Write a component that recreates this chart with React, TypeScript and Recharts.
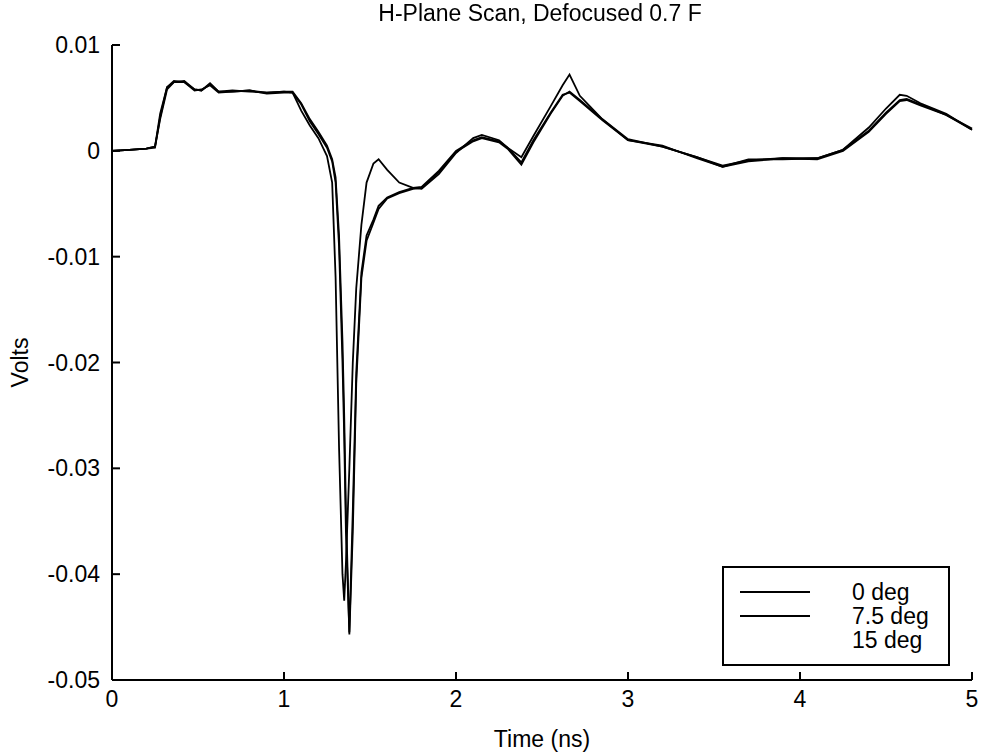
import React from 'react';
import { LineChart, Line, XAxis, YAxis } from 'recharts';

// time axis (ns)
const TIME = [0, 0.1, 0.2, 0.25, 0.28, 0.32, 0.36, 0.42, 0.48, 0.52, 0.57, 0.62, 0.7, 0.8, 0.9, 1.0, 1.05, 1.1, 1.15, 1.2, 1.25, 1.28, 1.3, 1.32, 1.34, 1.35, 1.36, 1.38, 1.4, 1.42, 1.45, 1.48, 1.52, 1.55, 1.6, 1.67, 1.75, 1.8, 1.9, 2.0, 2.1, 2.15, 2.25, 2.3, 2.38, 2.45, 2.55, 2.62, 2.66, 2.72, 2.85, 3.0, 3.2, 3.4, 3.55, 3.7, 3.9, 4.1, 4.25, 4.4, 4.5, 4.58, 4.62, 4.7, 4.85, 5.0];
const DEG0 = [0, 0.0001, 0.0002, 0.0004, 0.0035, 0.006, 0.0066, 0.0065, 0.0058, 0.0057, 0.0064, 0.0056, 0.0056, 0.0057, 0.0055, 0.0056, 0.0055, 0.0038, 0.0024, 0.0012, -0.0005, -0.003, -0.012, -0.028, -0.04, -0.0425, -0.039, -0.03, -0.02, -0.013, -0.007, -0.003, -0.0012, -0.0008, -0.0018, -0.003, -0.0035, -0.0036, -0.0022, -0.0002, 0.0012, 0.0015, 0.001, 0.0003, -0.0006, 0.0014, 0.0042, 0.0062, 0.0072, 0.0052, 0.003, 0.001, 0.0005, -0.0007, -0.0015, -0.0008, -0.0008, -0.0007, 0.0001, 0.0022, 0.004, 0.0053, 0.0052, 0.0045, 0.0035, 0.002];
const DEG75 = [0, 0.0001, 0.0002, 0.0004, 0.003, 0.0058, 0.0065, 0.0066, 0.0058, 0.0057, 0.0063, 0.0056, 0.0057, 0.0056, 0.0055, 0.0056, 0.0056, 0.0045, 0.003, 0.0018, 0.0005, -0.0008, -0.0025, -0.008, -0.018, -0.025, -0.034, -0.0457, -0.036, -0.022, -0.012, -0.0085, -0.0068, -0.0055, -0.0045, -0.004, -0.0036, -0.0035, -0.002, -0.0001, 0.0009, 0.0012, 0.0008, 0.0002, -0.0013, 0.0008, 0.0035, 0.0052, 0.0056, 0.0048, 0.003, 0.0011, 0.0004, -0.0006, -0.0015, -0.001, -0.0007, -0.0008, 0, 0.0018, 0.0035, 0.0047, 0.0048, 0.0043, 0.0034, 0.0021];
const DEG15 = [0, 0.0001, 0.0002, 0.0003, 0.0032, 0.006, 0.0065, 0.0065, 0.0057, 0.0058, 0.0062, 0.0055, 0.0056, 0.0057, 0.0054, 0.0055, 0.0055, 0.0044, 0.0028, 0.0016, 0.0003, -0.001, -0.003, -0.009, -0.02, -0.027, -0.036, -0.0455, -0.034, -0.021, -0.0115, -0.008, -0.0065, -0.0052, -0.0044, -0.0039, -0.0035, -0.0034, -0.0019, 0, 0.001, 0.0013, 0.0009, 0.0003, -0.0011, 0.001, 0.0036, 0.0053, 0.0055, 0.0047, 0.0029, 0.001, 0.0004, -0.0006, -0.0014, -0.0009, -0.0007, -0.0007, 0.0001, 0.0019, 0.0036, 0.0048, 0.0049, 0.0044, 0.0034, 0.002];
const X_TICKS = [0, 1, 2, 3, 4, 5];
const Y_TICKS = [0.01, 0, -0.01, -0.02, -0.03, -0.04, -0.05];
const LEGEND = ['0 deg', '7.5 deg', '15 deg'];

const data = TIME.map((t, i) => ({ t, a: DEG0[i], b: DEG75[i], c: DEG15[i] }));
const FONT = '"Liberation Sans", Arial, sans-serif';
const FS = 23;
const tickStyle = { fontSize: FS, fill: '#000', fontFamily: FONT };

export default function App() {
  return (
    <div style={{ position: 'fixed', left: 0, top: 0, width: 982, height: 753, background: '#fff', fontFamily: FONT }}>
      <LineChart width={982} height={753} data={data} margin={{ top: 45, right: 10, bottom: 0, left: 0 }}>
        <XAxis dataKey="t" type="number" domain={[0, 5]} ticks={X_TICKS} height={73} stroke="#000" strokeWidth={2}
          tickSize={-8} tickMargin={19} tick={tickStyle}
          label={{ value: 'Time (ns)', position: 'insideBottom', offset: 6, style: { fontSize: FS, fill: '#000', fontFamily: FONT } }} />
        <XAxis xAxisId="top" dataKey="t" type="number" domain={[0, 5]} ticks={X_TICKS} orientation="top" height={0}
          stroke="#000" strokeWidth={2} tickSize={-8} tick={false} />
        <YAxis type="number" domain={[-0.05, 0.01]} ticks={Y_TICKS} width={112} stroke="#000" strokeWidth={2}
          tickSize={-8} tickMargin={20} tick={tickStyle} tickFormatter={(v: number) => String(v)}
          label={{ value: 'Volts', angle: -90, position: 'insideLeft', offset: 20, style: { fontSize: FS, fill: '#000', fontFamily: FONT, textAnchor: 'middle' } }} />
        <YAxis yAxisId="right" type="number" domain={[-0.05, 0.01]} ticks={Y_TICKS} orientation="right" width={0}
          stroke="#000" strokeWidth={2} tickSize={-8} tick={false} />
        <Line dataKey="a" stroke="#000" strokeWidth={1.8} dot={false} isAnimationActive={false} />
        <Line dataKey="b" stroke="#000" strokeWidth={1.8} dot={false} isAnimationActive={false} />
        <Line dataKey="c" stroke="#000" strokeWidth={1.8} dot={false} isAnimationActive={false} />
      </LineChart>
      <div style={{ position: 'absolute', left: 540, top: -1, transform: 'translateX(-50%)', whiteSpace: 'nowrap', fontSize: FS, lineHeight: '28px' }}>
        H-Plane Scan, Defocused 0.7 F
      </div>
      <div style={{ position: 'absolute', left: 722, top: 566, width: 224, height: 96, border: '2px solid #000', background: '#fff', fontSize: 23 }}>
        {LEGEND.map((l, i) => (
          <div key={l} style={{ position: 'absolute', top: 12 + i * 24, left: 16, display: 'flex', alignItems: 'center', height: 24, lineHeight: '24px' }}>
            <span style={{ display: 'inline-block', width: 70, height: 0, borderTop: i < 2 ? '2px solid #000' : 'none' }} />
            <span style={{ marginLeft: 42 }}>{l}</span>
          </div>
        ))}
      </div>
    </div>
  );
}
